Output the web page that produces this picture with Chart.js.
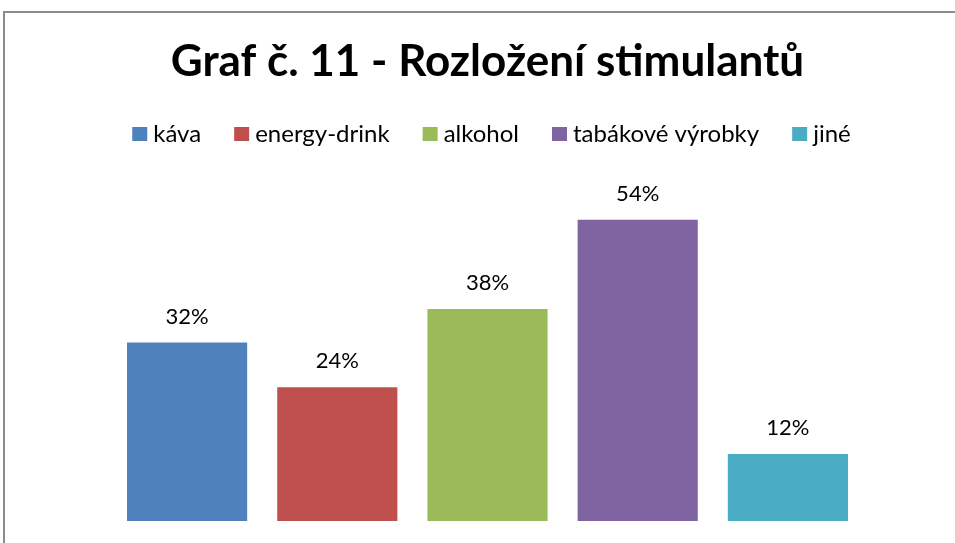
<!DOCTYPE html>
<html><head><meta charset="utf-8">
<script src="https://cdn.jsdelivr.net/npm/chart.js@4/dist/chart.umd.min.js"></script>
<style>
html,body{margin:0;padding:0;background:#fff;overflow:hidden;width:955px;height:543px;}
#box{position:absolute;left:3px;top:11px;width:969px;height:560px;border:2px solid #8c8c8c;box-sizing:border-box;background:#fff;}
#wrap{position:absolute;left:0;top:0;width:965px;height:556px;}
</style></head>
<body>
<div id="box"><div id="wrap"><canvas id="c"></canvas></div></div>
<script>
const titleText = "Graf č. 11 - Rozložení stimulantů";
const categories = ["káva", "energy-drink", "alkohol", "tabákové výrobky", "jiné"];
const values = [32, 24, 38, 54, 12];
const colors = ["#4F81BD", "#C0504D", "#9BBB59", "#8064A2", "#4BACC6"];
const yMax = 60;

const datasets = categories.map((name, i) => ({
  label: name,
  data: [values[i]],
  backgroundColor: colors[i],
  borderWidth: 0,
  barPercentage: 0.8,
  categoryPercentage: 1.0
}));

const labelPlugin = {
  id: 'valueLabels',
  afterDatasetsDraw(chart) {
    const ctx = chart.ctx;
    ctx.save();
    ctx.font = '22px Lato';
    ctx.fillStyle = '#000';
    ctx.textAlign = 'center';
    ctx.textBaseline = 'alphabetic';
    chart.data.datasets.forEach((ds, i) => {
      const meta = chart.getDatasetMeta(i);
      meta.data.forEach((el, j) => {
        ctx.fillText(ds.data[j] + '%', el.x, el.y - 19);
      });
    });
    ctx.restore();
  }
};

// Legend drawn in the space reserved below the title
const legendPlugin = {
  id: 'customLegend',
  afterDraw(chart) {
    const ctx = chart.ctx;
    const fontSize = 24, boxW = 15, boxH = 14, gap = 6, itemGap = 33;
    ctx.save();
    ctx.font = fontSize + 'px Lato';
    ctx.textBaseline = 'alphabetic';
    ctx.textAlign = 'left';
    const items = chart.data.datasets.map(ds => ({
      text: ds.label, color: ds.backgroundColor,
      w: boxW + gap + ctx.measureText(ds.label).width
    }));
    const total = items.reduce((s, it) => s + it.w, 0) + itemGap * (items.length - 1);
    let x = chart.width / 2 - total / 2 + 4;
    const baseline = 129; // canvas coords
    items.forEach(it => {
      ctx.fillStyle = it.color;
      ctx.fillRect(x, baseline - 15, boxW, boxH);
      ctx.fillStyle = '#000';
      ctx.fillText(it.text, x + boxW + gap, baseline);
      x += it.w + itemGap;
    });
    ctx.restore();
  }
};

new Chart(document.getElementById('c'), {
  type: 'bar',
  data: { labels: [''], datasets },
  options: {
    responsive: true,
    maintainAspectRatio: false,
    animation: false,
    layout: { padding: { left: 107, right: 107, top: 0, bottom: 48 } },
    plugins: {
      title: {
        display: true, text: titleText, color: '#000',
        font: { family: 'Lato', size: 44, weight: 'bold' },
        padding: { top: 22, bottom: 98.6 }
      },
      legend: { display: false },
      tooltip: { enabled: false }
    },
    scales: {
      x: { display: false },
      y: { display: false, min: 0, max: yMax }
    }
  },
  plugins: [labelPlugin, legendPlugin]
});
</script>
</body></html>
